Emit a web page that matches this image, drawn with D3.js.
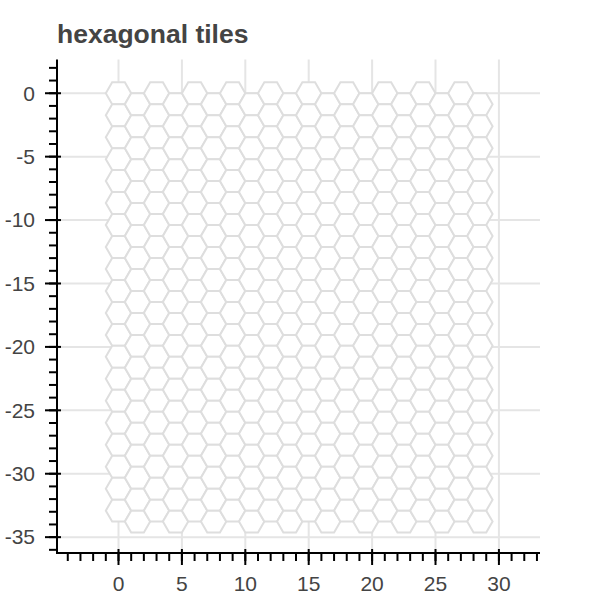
<!DOCTYPE html>
<html>
<head>
<meta charset="utf-8">
<script src="https://cdn.jsdelivr.net/npm/d3@7"></script>
<style>
  body { margin: 0; background: #fff; }
  text { font-family: "Liberation Sans", Arial, Helvetica, sans-serif; }
</style>
</head>
<body>
<svg width="600" height="600"></svg>
<script>
var svg = d3.select("svg"),
    width = +svg.attr("width"),
    height = +svg.attr("height");

// hex tile offsets (column q, row r), size = 1, flat top
var qs = [0, 1, 2, 3, 4, 5, 6, 7, 8, 9, 10, 11, 12, 13, 14, 15, 16, 17, 18, 19];
var rs = [0, 1, 2, 3, 4, 5, 6, 7, 8, 9, 10, 11, 12, 13, 14, 15, 16, 17, 18, 19];
var hexSize = 1;

var xTicks = [0, 5, 10, 15, 20, 25, 30];
var yTicks = [0, -5, -10, -15, -20, -25, -30, -35];

var frame = {left: 57, right: 540, top: 59.5, bottom: 553};

var x = d3.scaleLinear().domain([-4.85, 33.24]).range([frame.left, frame.right]);
var y = d3.scaleLinear().domain([2.66, -36.25]).range([frame.top, frame.bottom]);

var tiles = [];
qs.forEach(function(q) {
  rs.forEach(function(r) {
    tiles.push({
      cx: hexSize * 1.5 * q,
      cy: -hexSize * Math.sqrt(3) * (r + (q % 2) / 2)
    });
  });
});

// grid lines
var grid = svg.append("g").attr("class", "grid");
grid.selectAll(".vgrid").data(xTicks).enter().append("line")
    .attr("x1", function(d) { return x(d); })
    .attr("x2", function(d) { return x(d); })
    .attr("y1", frame.top).attr("y2", frame.bottom)
    .attr("stroke", "#e5e5e5").attr("stroke-width", 2);
grid.selectAll(".hgrid").data(yTicks).enter().append("line")
    .attr("y1", function(d) { return y(d); })
    .attr("y2", function(d) { return y(d); })
    .attr("x1", frame.left).attr("x2", frame.right)
    .attr("stroke", "#e5e5e5").attr("stroke-width", 2);

// hexagons
function hexPath(d) {
  var pts = [];
  for (var i = 0; i < 6; i++) {
    var a = Math.PI / 3 * i;
    pts.push([x(d.cx + hexSize * Math.cos(a)), y(d.cy + hexSize * Math.sin(a))]);
  }
  return "M" + pts.join("L") + "Z";
}

svg.append("g").attr("class", "tiles")
  .selectAll("path").data(tiles).enter().append("path")
    .attr("d", hexPath)
    .attr("fill", "#fff")
    .attr("stroke", "#dedede")
    .attr("stroke-width", 2);

// axes
var axisColor = "#000";
var xAxis = svg.append("g").attr("transform", "translate(0," + frame.bottom + ")");
xAxis.append("line").attr("x1", frame.left - 1).attr("x2", frame.right)
    .attr("stroke", axisColor).attr("stroke-width", 2);
xAxis.selectAll(".minor").data(d3.range(-4, 34)).enter().append("line")
    .attr("x1", function(d) { return x(d); }).attr("x2", function(d) { return x(d); })
    .attr("y1", 0).attr("y2", 8)
    .attr("stroke", axisColor).attr("stroke-width", 2);
xAxis.selectAll(".major").data(xTicks).enter().append("line")
    .attr("x1", function(d) { return x(d); }).attr("x2", function(d) { return x(d); })
    .attr("y1", -4).attr("y2", 12)
    .attr("stroke", axisColor).attr("stroke-width", 2);
xAxis.selectAll("text").data(xTicks).enter().append("text")
    .attr("x", function(d) { return x(d); })
    .attr("y", 38)
    .attr("text-anchor", "middle")
    .attr("fill", "#444")
    .attr("font-size", 21)
    .text(function(d) { return d; });

var yAxis = svg.append("g").attr("transform", "translate(" + frame.left + ",0)");
yAxis.append("line").attr("y1", frame.top).attr("y2", frame.bottom + 1)
    .attr("stroke", axisColor).attr("stroke-width", 2);
yAxis.selectAll(".minor").data(d3.range(-36, 3)).enter().append("line")
    .attr("y1", function(d) { return y(d); }).attr("y2", function(d) { return y(d); })
    .attr("x1", 0).attr("x2", -8)
    .attr("stroke", axisColor).attr("stroke-width", 2);
yAxis.selectAll(".major").data(yTicks).enter().append("line")
    .attr("y1", function(d) { return y(d); }).attr("y2", function(d) { return y(d); })
    .attr("x1", 4).attr("x2", -12)
    .attr("stroke", axisColor).attr("stroke-width", 2);
yAxis.selectAll("text").data(yTicks).enter().append("text")
    .attr("x", -22)
    .attr("y", function(d) { return y(d); })
    .attr("dy", "0.35em")
    .attr("text-anchor", "end")
    .attr("fill", "#444")
    .attr("font-size", 21)
    .text(function(d) { return d; });

// title
svg.append("text")
    .attr("x", 57)
    .attr("y", 43)
    .attr("fill", "#444")
    .attr("font-size", 26.5)
    .attr("font-weight", "bold")
    .text("hexagonal tiles");
</script>
</body>
</html>
